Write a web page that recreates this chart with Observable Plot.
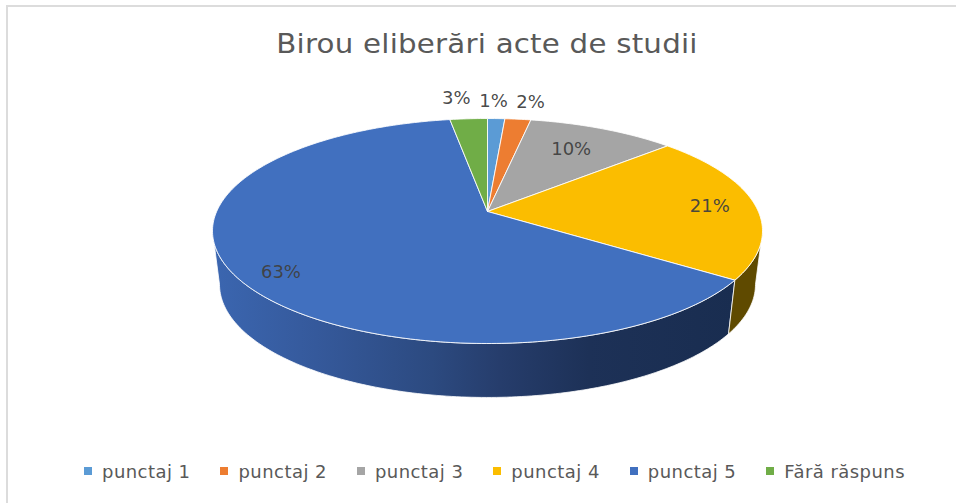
<!DOCTYPE html>
<html>
<head>
<meta charset="utf-8">
<script src="https://cdn.jsdelivr.net/npm/d3@7"></script>
<script src="https://cdn.jsdelivr.net/npm/@observablehq/plot@0.6"></script>
<style>
  html, body { margin: 0; padding: 0; background: #fff; }
  #page { position: relative; width: 956px; height: 503px; overflow: hidden; font-family: "DejaVu Sans", sans-serif; }
  #frame { position: absolute; left: 6px; top: 5px; width: 950px; height: 498px; border-left: 2px solid #dcdcdc; border-top: 2px solid #dcdcdc; box-sizing: border-box; }
  #title { position: absolute; left: 0; top: 27px; width: 974px; text-align: center; font-size: 27px; line-height: 34px; color: #595959; letter-spacing: 0.2px; transform: scaleX(1.085); }
  #chart { position: absolute; left: 0; top: 70px; }
  #legend { position: absolute; left: 84px; top: 458px; display: flex; align-items: center; height: 26px; font-size: 18px; letter-spacing: 0.45px; color: #595959; white-space: nowrap; }
  #legend .item { display: flex; align-items: center; margin-right: 30px; }
  #legend .swatch { width: 8px; height: 8px; margin-right: 10px; }
</style>
</head>
<body>
<div id="page">
  <div id="frame"></div>
  <div id="title"></div>
  <div id="chart"></div>
  <div id="legend"></div>
</div>
<script>
const titleText = "Birou eliberări acte de studii";
const categories = ["punctaj 1", "punctaj 2", "punctaj 3", "punctaj 4", "punctaj 5", "Fără răspuns"];
const shares = [1.2, 1.8, 10.3, 21.3, 62.8, 2.6];
const labels = ["1%", "2%", "10%", "21%", "63%", "3%"];
const colors = ["#5B9BD5", "#ED7D31", "#A5A5A5", "#FBBD00", "#4170BF", "#70AD47"];

// where each percentage label sits: position around the pie (in %) and radius
const labelTurn = [0.35, 2.5, 7.9, 24.0, 65.0, 98.25];
const labelRadius = [1.23, 1.23, 0.72, 0.83, 0.86, 1.28];

// perspective of the tilted disc
const tilt = 0.1733;
const squeeze = Math.sqrt(1 - tilt * tilt);
const depthX = 0.9745, depthY = 1.004, depthShift = -0.4755;

function top3d(turn, r = 1) {
  const a = turn / 100 * 2 * Math.PI;
  const x = r * Math.sin(a), y = r * Math.cos(a);
  const w = 1 + tilt * y;
  return {x: x * squeeze / w, y: (y + tilt) / w};
}
function bottom3d(turn) {
  const p = top3d(turn);
  return {x: p.x * depthX, y: p.y * depthY + depthShift};
}

const ends = d3.cumsum(shares);
const starts = ends.map((e, i) => e - shares[i]);
const turns = (a, b) => { const n = Math.ceil((b - a) / 0.25); return d3.range(n + 1).map(i => a + (b - a) * i / n); };

const slices = categories.flatMap((slice, i) => {
  const rim = turns(starts[i], ends[i]).map(t => ({slice, ...top3d(t)}));
  const apex = {slice, ...top3d(0, 0)};
  return [apex, ...rim, apex];
});

function wall(slice, a, b) {
  const ts = turns(a, b);
  const upper = ts.map(t => ({slice, ...top3d(t)}));
  const lower = ts.slice().reverse().map(t => ({slice, ...bottom3d(t)}));
  return [...upper, ...lower, upper[0]];
}
// the walls stop where the rim is widest, so their outer edges are the disc's silhouette
const rightmost = Math.acos(-tilt) / (2 * Math.PI) * 100, leftmost = 100 - rightmost;
const iY = categories.indexOf("punctaj 4"), iB = categories.indexOf("punctaj 5");
const wallYellow = wall("punctaj 4", rightmost, ends[iY]);
const wallBlue = wall("punctaj 5", starts[iB], leftmost);

const labelRows = categories.map((c, i) => ({label: labels[i], ...top3d(labelTurn[i], labelRadius[i])}));

const gradient = () => {
  const defs = d3.create("svg:defs");
  const g = defs.append("linearGradient").attr("id", "blueWall").attr("x1", 1).attr("x2", 0).attr("y1", 0).attr("y2", 0);
  [[0, "#192D50"], [0.28, "#1D3157"], [0.45, "#263D6C"], [0.58, "#2C4A80"], [0.8, "#35599B"], [1, "#3B66B0"]]
    .forEach(([o, c]) => g.append("stop").attr("offset", o).attr("stop-color", c));
  return defs.node();
};

const plot = Plot.plot({
  width: 956,
  height: 370,
  margin: 0,
  x: {domain: [-1, 1], range: [212, 762], axis: null},
  y: {domain: [1, -1], range: [48, 273], axis: null},
  color: {domain: categories, range: colors},
  marks: [
    gradient,
    Plot.line(wallBlue, {x: "x", y: "y", fill: "url(#blueWall)", stroke: "white", strokeWidth: 0.8}),
    Plot.line(wallYellow, {x: "x", y: "y", fill: "#5F4A00", stroke: "white", strokeWidth: 0.8}),
    Plot.line(slices, {x: "x", y: "y", z: "slice", fill: "slice", stroke: "white", strokeWidth: 1, strokeOpacity: 0.85}),
    Plot.text(labelRows, {x: "x", y: "y", text: "label", fontSize: 18, fill: "#404040", fillOpacity: 0.95, fontFamily: "DejaVu Sans"})
  ]
});
document.getElementById("chart").appendChild(plot);
document.getElementById("title").textContent = titleText;
const legend = d3.select("#legend");
categories.forEach((c, i) => {
  const item = legend.append("div").attr("class", "item");
  item.append("div").attr("class", "swatch").style("background", colors[i]);
  item.append("div").text(c);
});
</script>
</body>
</html>
